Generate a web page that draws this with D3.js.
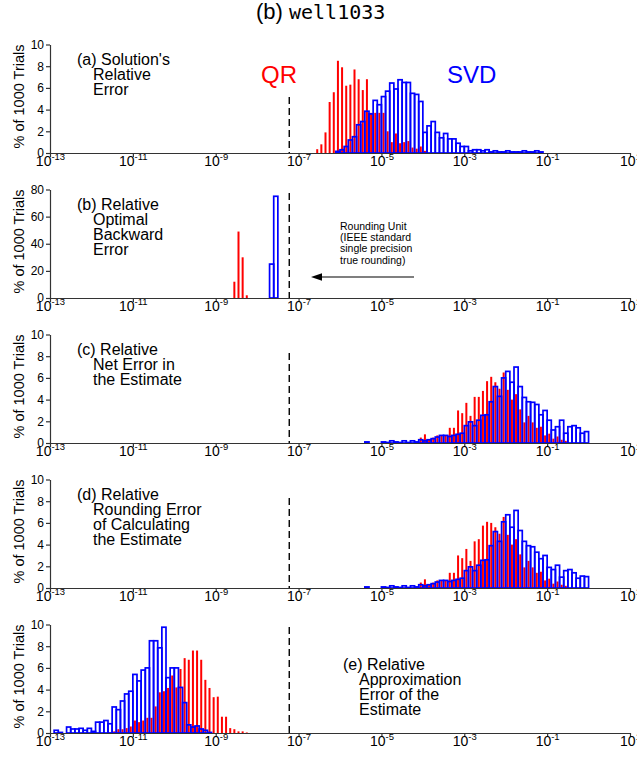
<!DOCTYPE html>
<html>
<head>
<meta charset="utf-8">
<script src="https://cdn.jsdelivr.net/npm/d3@7"></script>
<style>
body { margin: 0; background: #fff; }
svg { display: block; font-family: "Liberation Sans", Arial, Helvetica, sans-serif; }
</style>
</head>
<body>
<div id="chart"></div>
<script>
// Histogram bins are 0.1 decade wide; each series lists % of 1000 trials
// starting at the given log10 bin edge.
var binWidth = 0.1;
var roundingUnit = 5.96e-8;   // 2^-24
var xTickExponents = [-13, -11, -9, -7, -5, -3, -1, 1];
var yTicksPct = [0, 2, 4, 6, 8, 10];
var yTicksB = [0, 20, 40, 60, 80];

// (a) solution's relative error
var qrAStart = -6.6;
var qrA = [0.35, 0.8, 1.9, 4.7, 5.6, 8.5, 7.9, 6.2, 6.3, 7.7, 6.8, 5.8, 6.8, 3.7, 3.7, 3.7, 3.7,
  2.0, 1.0, 1.8, 0.9, 1.0, 1.1, 0.5, 0.4, 0.6, 0.2];
var svdAStart = -6.1;
var svdA = [0.15, 0.3, 0.6, 1.2, 1.5, 2.6, 2.9, 3.85, 3.6, 4.85, 4.45, 5.2, 5.7, 6.45, 5.9, 6.75, 6.5,
  6.5, 5.5, 5.4, 4.75, 1.9, 2.5, 2.9, 1.9, 1.4, 1.8, 1.3, 1.3, 0.9, 0.6, 0.6, 0.2, 0.3, 0.3, 0.2,
  0.3, 0.1, 0.2, 0.1, 0.1, 0.2, 0.1, 0.1, 0.1, 0.2, 0.1, 0.1, 0.2, 0.1];

// (b) relative optimal backward error
var qrBStart = -8.6;
var qrB = [12, 49, 30, 2];
var svdBStart = -7.7;
var svdB = [25, 75];

// (c) relative net error in the estimate
var qrCStart = -4.1;
var qrC = [0.5, 0.8, 0.3, 0.5, 0.7, 0.7, 0.7, 1.4, 1.4, 3.0, 2.75, 3.7, 2.5, 4.25, 4.25, 4.8, 5.7,
  6.1, 5.6, 5.0, 6.5, 4.9, 4.0, 4.5, 3.1, 1.9, 2.5, 1.9, 1.4, 1.5, 0.7, 0.86, 0.4, 0.6, 0.3, 0.2];
var svdCStart = -5.4;
var svdC = [0.1, 0, 0, 0, 0.1, 0.05, 0.2, 0.1, 0.05, 0.2, 0.05, 0.2, 0.1, 0.3, 0.2, 0.3, 0.4, 0.55,
  0.7, 0.7, 0.6, 0.7, 0.8, 0.9, 1.6, 1.95, 1.6, 2.1, 2.55, 2.6, 3.8, 5.2, 4.3, 6.0, 6.6, 5.6, 7.0,
  5.2, 4.2, 3.8, 3.75, 3.55, 2.6, 3.0, 2.1, 1.2, 1.5, 2.1, 0.9, 1.5, 1.6, 1.4, 0.9, 1.05];

// (d) relative rounding error of calculating the estimate
var qrDStart = -4.1;
var qrD = [0.5, 0.8, 0.3, 0.5, 0.7, 0.7, 0.7, 1.4, 1.4, 3.0, 2.75, 3.6, 2.5, 4.3, 4.5, 5.75, 6.1,
  6.0, 5.6, 5.0, 6.55, 4.9, 4.0, 4.5, 3.1, 1.9, 2.5, 1.9, 1.4, 1.5, 0.7, 0.86, 0.4, 0.6, 0.3, 0.2];
var svdDStart = -5.4;
var svdD = [0.1, 0, 0, 0, 0.1, 0.05, 0.2, 0.1, 0.05, 0.2, 0.05, 0.2, 0.1, 0.3, 0.2, 0.3, 0.4, 0.55,
  0.7, 0.7, 0.6, 0.7, 0.8, 0.9, 1.6, 1.95, 1.6, 2.1, 2.55, 2.6, 3.9, 5.2, 4.3, 6.1, 6.75, 5.6, 7.15,
  5.3, 4.3, 3.9, 3.8, 3.3, 2.7, 3.0, 1.9, 1.7, 2.1, 1.0, 1.6, 1.7, 1.4, 0.9, 1.1, 1.05];

// (e) relative approximation error of the estimate
var qrEStart = -11.6;
var qrE = [0.05, 0.15, 0.35, 0.35, 0.45, 0.6, 1.15, 1.0, 1.15, 1.4, 1.4, 2.45, 3.75, 3.85, 4.15,
  5.3, 4.2, 5.9, 6.9, 6.75, 7.6, 7.6, 6.75, 4.9, 4.15, 3.3, 3.35, 1.5, 1.5, 0.45, 0.35, 0.15, 0.15, 0.05];
var svdEStart = -12.9;
var svdE = [0.25, 0.05, 0, 0.55, 0.37, 0.37, 0.43, 0.25, 0.43, 0.15, 1.0, 1.0, 1.15, 0.85, 2.4, 2.15,
  2.95, 3.6, 3.85, 5.4, 4.8, 5.8, 6.0, 8.5, 8.5, 7.85, 9.75, 5.1, 6.0, 6.0, 4.2, 2.8, 0.75, 0.55,
  0.65, 0.37, 0.25, 0.05];

var panelLabels = [
  ["(a) Solution's", "Relative", "Error"],
  ["(b) Relative", "Optimal", "Backward", "Error"],
  ["(c) Relative", "Net Error in", "the Estimate"],
  ["(d) Relative", "Rounding Error", "of Calculating", "the Estimate"],
  ["(e) Relative", "Approximation", "Error of the", "Estimate"]
];
var roundingNote = ["Rounding Unit", "(IEEE standard", "single precision", "true rounding)"];

// layout
var svgWidth = 637, svgHeight = 759;
var panelTops = [44.5, 189.5, 334.5, 479.5, 624.5];
var panelHeight = 108.5;

var svg = d3.select("#chart").append("svg")
  .attr("width", svgWidth)
  .attr("height", svgHeight);

var x = d3.scaleLog().domain([1e-13, 10]).range([50, 630]);

// title
var title = svg.append("text").attr("x", 256).attr("y", 19).attr("font-size", 22);
title.append("tspan").text("(b) ");
title.append("tspan").attr("font-family", "'DejaVu Sans Mono', 'Liberation Mono', monospace")
  .attr("font-size", 20).text("well1033");

var panels = [
  {qr: qrA, qrStart: qrAStart, svd: svdA, svdStart: svdAStart, yMax: 10, yTicks: yTicksPct, dashTop: 97, lx: 77},
  {qr: qrB, qrStart: qrBStart, svd: svdB, svdStart: svdBStart, yMax: 80, yTicks: yTicksB, dashTop: 193, lx: 77},
  {qr: qrC, qrStart: qrCStart, svd: svdC, svdStart: svdCStart, yMax: 10, yTicks: yTicksPct, dashTop: 353, lx: 77},
  {qr: qrD, qrStart: qrDStart, svd: svdD, svdStart: svdDStart, yMax: 10, yTicks: yTicksPct, dashTop: 498, lx: 77},
  {qr: qrE, qrStart: qrEStart, svd: svdE, svdStart: svdEStart, yMax: 10, yTicks: yTicksPct, dashTop: 627, lx: 343}
];

function bins(values, start) {
  return values.map(function(v, i) { return {lo: start + i * binWidth, v: v}; })
    .filter(function(d) { return d.v > 0; });
}

panels.forEach(function(p, i) {
  var top = panelTops[i];
  var bottom = top + panelHeight;
  var y = d3.scaleLinear().domain([0, p.yMax]).range([bottom, top]);
  var g = svg.append("g");

  // QR: thin red bars at bin centres
  g.append("g").selectAll("rect")
    .data(bins(p.qr, p.qrStart))
    .enter().append("rect")
    .attr("x", function(d) { return x(Math.pow(10, d.lo + binWidth / 2)) - 1; })
    .attr("width", 2)
    .attr("y", function(d) { return y(d.v); })
    .attr("height", function(d) { return y(0) - y(d.v); })
    .attr("fill", "#ff0000");

  // SVD: outlined blue bins
  g.append("g").selectAll("rect")
    .data(bins(p.svd, p.svdStart))
    .enter().append("rect")
    .attr("x", function(d) { return x(Math.pow(10, d.lo)); })
    .attr("width", function(d) { return x(Math.pow(10, d.lo + binWidth)) - x(Math.pow(10, d.lo)); })
    .attr("y", function(d) { return y(d.v); })
    .attr("height", function(d) { return y(0) - y(d.v); })
    .attr("fill", "none")
    .attr("stroke", "#0000ff")
    .attr("stroke-width", 1.7);

  // rounding unit
  g.append("line")
    .attr("x1", x(roundingUnit)).attr("x2", x(roundingUnit))
    .attr("y1", p.dashTop).attr("y2", bottom)
    .attr("stroke", "#000").attr("stroke-width", 1.4)
    .attr("stroke-dasharray", "7,4");

  // axes
  var yAxis = g.append("g")
    .attr("transform", "translate(50,0)")
    .call(d3.axisLeft(y).tickValues(p.yTicks).tickSize(4).tickSizeOuter(0).tickPadding(2));
  yAxis.selectAll("text").attr("font-size", 12).attr("fill", "#000")
    .attr("font-family", "'Liberation Sans', Arial, sans-serif");

  var xAxis = g.append("g")
    .attr("transform", "translate(0," + bottom + ")")
    .call(d3.axisBottom(x).tickValues(xTickExponents.map(function(e) { return Math.pow(10, e); }))
      .tickSize(4).tickSizeOuter(0).tickFormat(function() { return ""; }));
  xAxis.selectAll(".tick text").remove();
  xAxis.selectAll(".tick").each(function(d, k) {
    var t = d3.select(this).append("text")
      .attr("y", 12.5).attr("text-anchor", "middle").attr("fill", "#000")
      .attr("font-family", "'Liberation Sans', Arial, sans-serif");
    t.append("tspan").attr("font-size", 14).text("10");
    t.append("tspan").attr("font-size", 9.5).attr("dy", -5.5).text(xTickExponents[k]);
  });
  [yAxis, xAxis].forEach(function(a) {
    a.selectAll("path, line").attr("stroke", "#333").attr("stroke-width", 1.2);
  });

  svg.append("text")
    .attr("transform", "translate(24," + (top + 52) + ") rotate(-90)")
    .attr("text-anchor", "middle")
    .attr("font-size", 14.5)
    .text("% of 1000 Trials");

  // panel label
  var lab = g.append("text").attr("font-size", 16);
  panelLabels[i].forEach(function(line, k) {
    lab.append("tspan")
      .attr("x", k === 0 ? p.lx : p.lx + 16)
      .attr("y", top + 20.5 + k * 15 + (i === 4 ? 25 : 0))
      .text(line);
  });
});

// series names on panel (a)
svg.append("text").attr("x", 261).attr("y", 83).attr("font-size", 24)
  .attr("fill", "#ff0000").text("QR");
svg.append("text").attr("x", 447).attr("y", 83).attr("font-size", 24)
  .attr("fill", "#0000ff").text("SVD");

// rounding unit note with arrow on panel (b)
var note = svg.append("text").attr("font-size", 10.5);
roundingNote.forEach(function(line, k) {
  note.append("tspan").attr("x", 340).attr("y", 230 + k * 11.2).text(line);
});
svg.append("line")
  .attr("x1", 414).attr("x2", 320).attr("y1", 277).attr("y2", 277)
  .attr("stroke", "#000").attr("stroke-width", 1.2);
svg.append("path")
  .attr("d", "M311,277 L322,273.3 L322,280.7 Z")
  .attr("fill", "#000");
</script>
</body>
</html>
